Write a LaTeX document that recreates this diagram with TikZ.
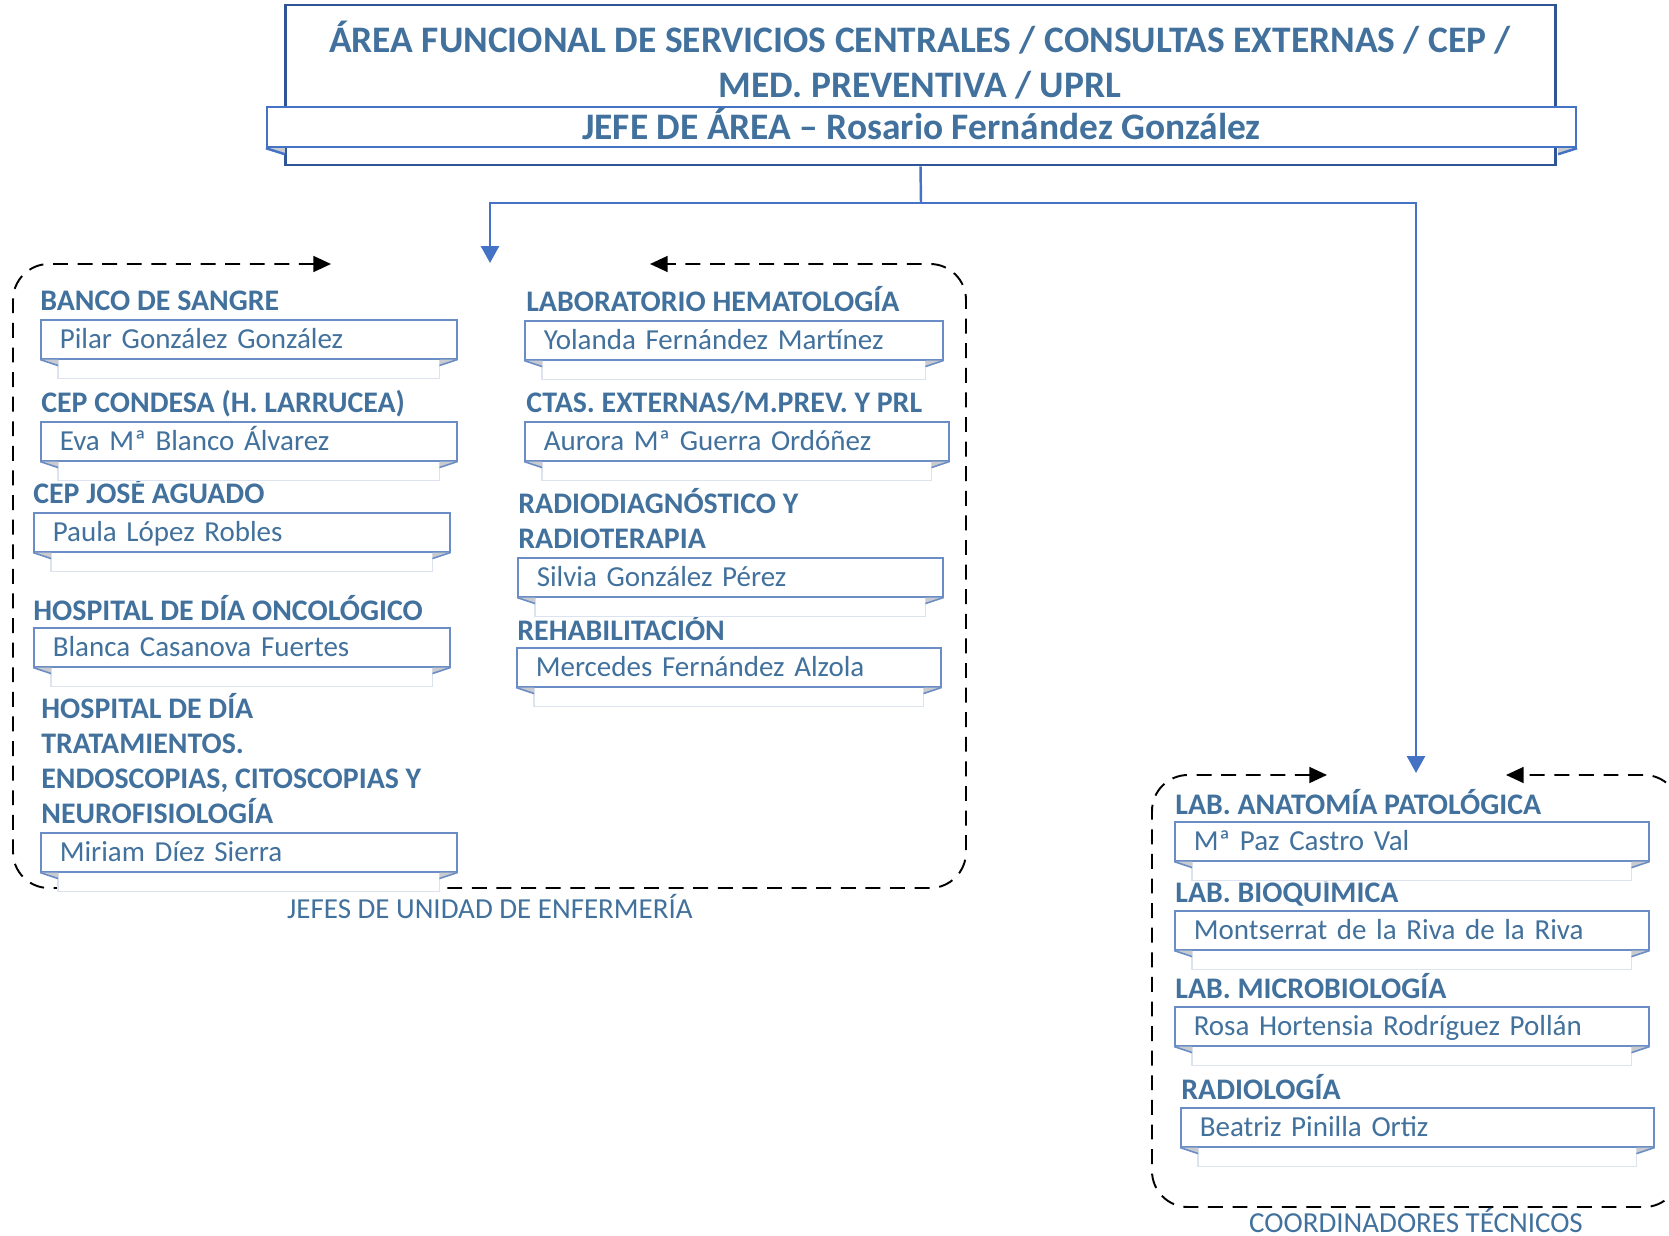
\documentclass[tikz,border=0pt]{standalone}
\usepackage{fontspec}
\setmainfont{Carlito}
\usetikzlibrary{arrows.meta,positioning}

\definecolor{txtblue}{HTML}{41719C}
\definecolor{lineblue}{HTML}{4472C4}
\definecolor{darkblue}{HTML}{2F5597}
\definecolor{boxblue}{HTML}{6A8DC6}
\definecolor{bandline}{HTML}{DCE3EF}
\definecolor{foldgrey}{HTML}{C9CBCF}

\begin{document}
\begin{tikzpicture}[x=0.02cm, y=-0.02cm,
				title box/.style={draw=darkblue, line width=1.6pt, fill=white,
                minimum width=25.42cm, minimum height=3.2cm},
				jefe box/.style={draw=lineblue, line width=1.4pt, fill=white,
                minimum width=26.18cm, minimum height=0.8cm, inner sep=0pt,
                text height=16pt, text depth=2.3pt,
                text=txtblue, font=\fontsize{21.3}{25.5}\selectfont\bfseries},
				title txt/.style={align=center, text=txtblue, inner sep=0pt,
                font=\fontsize{21.3}{25.5}\selectfont\bfseries},
				head txt/.style={anchor=base west, inner sep=0pt, align=left, text=txtblue,
                font=\fontsize{17}{19.8}\selectfont\bfseries},
				name box/.style={draw=boxblue, fill=white, line width=0.9pt,
                anchor=north west, minimum height=0.78cm, inner xsep=0.38cm,
                inner ysep=0pt, text width=#1, align=left, text=txtblue,
                text height=12.5pt, text depth=2pt,
                font=\fontsize{16.5}{19.8}\selectfont},
    			% Define styles for the frames and links
				band/.style={draw=bandline, line width=0.8pt},
				fold/.style={fill=foldgrey},
				frame/.style={draw=black, line width=1.1pt, dash pattern=on 8.5pt off 5.5pt,
                rounded corners=0.72cm,
                {Triangle[length=10pt,width=9pt]}-{Triangle[length=10pt,width=9pt]}},
				link/.style={draw=lineblue, line width=1.4pt},
				group txt/.style={text=txtblue, font=\fontsize{16.5}{19.8}\selectfont}
    			]
\clip (0,0) rectangle (1669,1236);

%% Frame coordinates
\coordinate (enf l) at (331,264);
\coordinate (enf r) at (650,264);
\coordinate (enf top) at (490,263);
\coordinate (coor l) at (1327,775);
\coordinate (coor r) at (1506,775);
\coordinate (coor top) at (1416,773);
\coordinate (split) at (921,203);

%% Dashed frames
\draw [frame](enf l)--(13,264)--(13,888)--(966,888)--(966,264)--(enf r);
\draw [frame](coor l)--(1152,775)--(1152,1207)--(1680,1207)--(1680,775)--(coor r);

%%
%%%% Area title
\node [title box] (title) at (920.5,85) {};
\node [title txt] (area) at (920,60) {ÁREA FUNCIONAL DE SERVICIOS CENTRALES / CONSULTAS EXTERNAS / CEP /\\MED. PREVENTIVA / UPRL};
\node [jefe box] (jefe) at (921.5,127) {JEFE DE ÁREA – Rosario Fernández González};
\fill [fold](jefe.south west)--++(19,0)--++(0,6)--cycle;
\fill [fold](jefe.south east)--++(-19,0)--++(0,6)--cycle;
\draw [lineblue, line width=1.4pt](jefe.south west)--++(19,6) (jefe.south east)--++(-19,6);

%%
%%%% Links to the groups
\draw [link](title.south)--(split);
\draw [link, -{Triangle[length=9.6pt,width=10.2pt]}](split)-|(enf top);
\draw [link, -{Triangle[length=9.6pt,width=10.2pt]}](split)-|(coor top);

%%
%%%%% Jefes de unidad de enfermería
\node [head txt] (banco) at (40,311) {BANCO DE SANGRE};
\node [name box=7.56cm] (pilar) at (40,319) {Pilar González González};
\node [head txt] (condesa) at (41,413) {CEP CONDESA (H. LARRUCEA)};
\node [name box=7.56cm] (eva) at (40,421) {Eva Mª Blanco Álvarez};
\node [head txt] (aguado) at (33,503) {CEP JOSÉ AGUADO};
\node [name box=7.56cm] (paula) at (33,512) {Paula López Robles};
\node [head txt] (oncologico) at (33,620) {HOSPITAL DE DÍA ONCOLÓGICO};
\node [name box=7.56cm] (blanca) at (33,627) {Blanca Casanova Fuertes};
\node [head txt] (hdia) at (41,823) {HOSPITAL DE DÍA\\TRATAMIENTOS.\\ENDOSCOPIAS, CITOSCOPIAS Y\\NEUROFISIOLOGÍA};
\node [name box=7.56cm] (miriam) at (40,832) {Miriam Díez Sierra};

\node [head txt] (hemato) at (526,312) {LABORATORIO HEMATOLOGÍA};
\node [name box=7.60cm] (yolanda) at (524,320) {Yolanda Fernández Martínez};
\node [head txt] (ctas) at (526,413) {CTAS. EXTERNAS/M.PREV. Y PRL};
\node [name box=7.72cm] (aurora) at (524,421) {Aurora Mª Guerra Ordóñez};
\node [head txt] (radio) at (518,548) {RADIODIAGNÓSTICO Y\\RADIOTERAPIA};
\node [name box=7.74cm] (silvia) at (517,557) {Silvia González Pérez};
\node [head txt] (rehab) at (517,640) {REHABILITACIÓN};
\node [name box=7.72cm] (mercedes) at (516,647) {Mercedes Fernández Alzola};

%%
%%%%% Coordinadores técnicos
\node [head txt] (anatomia) at (1175,814) {LAB. ANATOMÍA PATOLÓGICA};
\node [name box=8.72cm] (mapaz) at (1174,821) {Mª Paz Castro Val};
\node [head txt] (bioquimica) at (1175,902) {LAB. BIOQUÍMICA};
\node [name box=8.72cm] (montse) at (1174,910) {Montserrat de la Riva de la Riva};
\node [head txt] (micro) at (1175,998) {LAB. MICROBIOLOGÍA};
\node [name box=8.72cm] (rosa) at (1174,1006) {Rosa Hortensia Rodríguez Pollán};
\node [head txt] (radiologia) at (1181,1099) {RADIOLOGÍA};
\node [name box=8.70cm] (beatriz) at (1180,1107) {Beatriz Pinilla Ortiz};

%% Ribbon bands under the name boxes
\foreach \n in {pilar,eva,paula,blanca,miriam,yolanda,aurora,silvia,mercedes,mapaz,montse,rosa,beatriz}{
  \fill [white](\n.south west)++(18,1) rectangle ([shift={(-18,19)}]\n.south east);
  \draw [band]([shift={(18,0)}]\n.south west)--++(0,19)-|([shift={(-18,0)}]\n.south east);
  \fill [fold](\n.south west)--++(18,0)--++(0,6)--cycle;
  \fill [fold](\n.south east)--++(-18,0)--++(0,6)--cycle;
  \draw [boxblue, line width=0.9pt](\n.south west)--++(18,6) (\n.south east)--++(-18,6);
}

%% Group labels
\node [group txt] (enf lbl) at (490,906) {JEFES DE UNIDAD DE ENFERMERÍA};
\node [group txt] (coor lbl) at (1416,1220) {COORDINADORES TÉCNICOS};

\end{tikzpicture}
\end{document}
